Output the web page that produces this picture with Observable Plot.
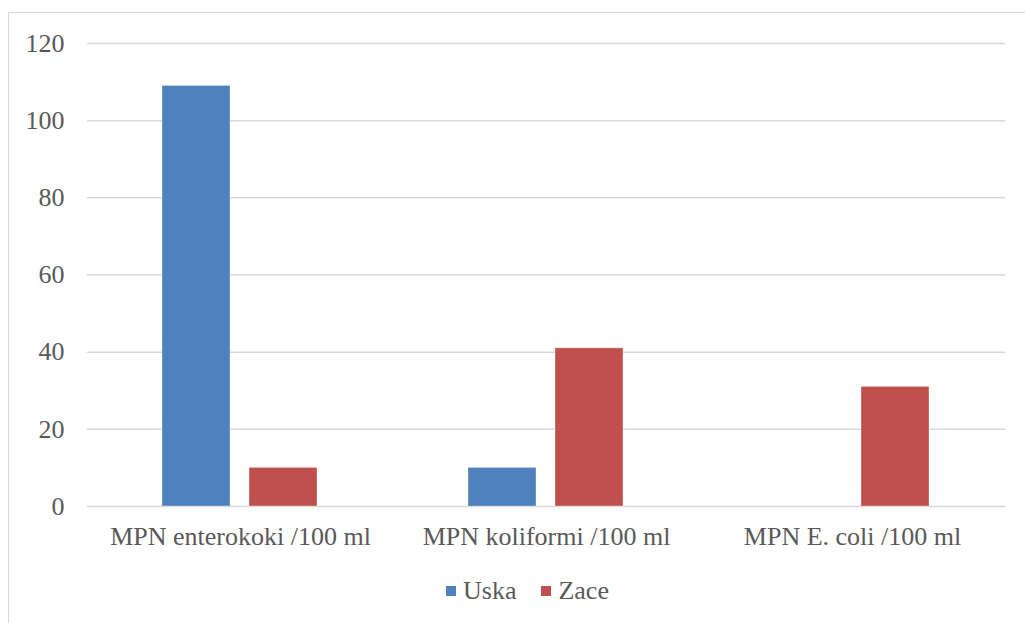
<!DOCTYPE html>
<html>
<head>
<meta charset="utf-8">
<script src="https://cdn.jsdelivr.net/npm/d3@7"></script>
<script src="https://cdn.jsdelivr.net/npm/@observablehq/plot@0.6"></script>
<style>
  html, body { margin: 0; padding: 0; background: #fff; }
  #frame {
    position: absolute; left: 8px; top: 12px; width: 1017px; height: 611px;
    border-top: 1.5px solid #d9d9d9; border-left: 1.5px solid #d9d9d9;
    box-sizing: border-box;
  }
  #chart { position: absolute; left: 0; top: 0; }
  #legend { position: absolute; left: 446px; top: 576px; }
  #legend .lg-swatches { font-family: "Liberation Serif", serif; font-size: 26px; color: #595959; min-height: 30px; margin: 0; }
  #legend .lg-swatch { margin-right: 25px !important; }
  #legend .lg-swatch > svg { margin-right: 7px !important; }
</style>
</head>
<body>
<div id="frame"></div>
<div id="chart"></div>
<div id="legend"></div>
<script>
const categories = ["MPN enterokoki /100 ml", "MPN koliformi /100 ml", "MPN E. coli /100 ml"];
const series = ["Uska", "Zace"];
const uska = [109, 10, 0];
const zace = [10, 41, 31];
const yTicks = [0, 20, 40, 60, 80, 100, 120];
const colors = ["#4f81bd", "#c0504d"];

const rows = categories.flatMap((c, i) => [
  {category: c, series: series[0], value: uska[i]},
  {category: c, series: series[1], value: zace[i]}
]);

const chart = Plot.plot({
  width: 1025,
  height: 560,
  marginLeft: 87,
  marginRight: 20,
  marginTop: 43,
  marginBottom: 54,
  style: {fontFamily: "Liberation Serif, serif", fontSize: "26px", color: "#595959", background: "transparent"},
  fx: {domain: categories, padding: 0, label: null, tickSize: 0, tickPadding: 20},
  x: {domain: series, paddingInner: 0.218, paddingOuter: 0.867, axis: null},
  y: {domain: [0, 120], ticks: yTicks, label: null, tickSize: 0, tickPadding: 23},
  color: {domain: series, range: colors},
  marks: [
    Plot.ruleY(yTicks, {stroke: "#d9d9d9", strokeWidth: 1.5}),
    Plot.barY(rows, {fx: "category", x: "series", y: "value", fill: "series",
      stroke: "#ffffff", strokeOpacity: 0.35, strokeWidth: 1})
  ]
});
document.getElementById("chart").append(chart);

const legend = Plot.legend({
  color: {domain: series, range: colors},
  swatchSize: 10,
  className: "lg"
});
document.getElementById("legend").append(legend);
</script>
</body>
</html>
